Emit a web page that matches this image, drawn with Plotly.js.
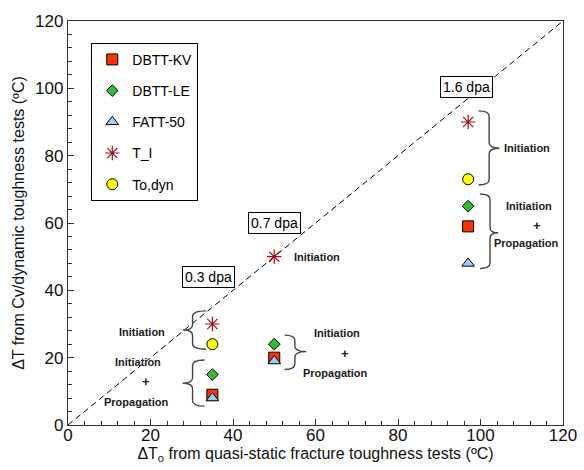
<!DOCTYPE html>
<html>
<head>
<meta charset="utf-8">
<script src="https://cdn.plot.ly/plotly-3.0.1.min.js"></script>
<style>html,body{margin:0;padding:0;background:#fff;}#chart{width:584px;height:470px;}</style>
</head>
<body>
<div id="chart"></div>
<script>
// Data
const deltaTo = [35, 50, 97];          // ΔTo from quasi-static fracture toughness tests
const dbttKV = [9, 20, 59];
const dbttLE = [15, 24, 65];
const fatt50 = [8, 19, 48];
const tI = [30, 50, 90];
const toDyn = [24, null, 73];
const diagonal = [0, 120];
const doseLabels = ['0.3 dpa', '0.7 dpa', '1.6 dpa'];

const FONT = 'Arial, "Liberation Sans", sans-serif';

function mk(name, y, symbol, color, size, lineColor, lineWidth, group) {
  return {
    type: 'scatter', mode: 'markers', name: name, x: deltaTo, y: y,
    legendgroup: group,
    marker: {symbol: symbol, color: color, size: size,
             line: {color: lineColor, width: lineWidth}}
  };
}

const traces = [
  {type: 'scatter', mode: 'lines', x: diagonal, y: diagonal, showlegend: false,
   line: {color: '#000', width: 1, dash: '6px,4px'}, hoverinfo: 'skip'},
  mk('DBTT-KV', dbttKV, 'square', '#FF3300', 11, '#000', 1, 'a'),
  mk('DBTT-LE', dbttLE, 'diamond', '#33BB33', 9, '#000', 1, 'b'),
  mk('FATT-50', fatt50, 'triangle-up', '#99CCFF', 11, '#000', 1, 'c'),
  mk('T_I', tI, 'asterisk-open', '#A01010', 12, '#A01010', 1.2, 'd'),
  mk('To,dyn', toDyn, 'circle', '#FFFF00', 11, '#000', 1, 'e')
];

// Brace path helpers (data coordinates)
function brace(xEnd, xv, xt, yTop, yMid, yBot) {
  const c = 1.6;
  return `M ${xEnd},${yTop} Q ${xv},${yTop} ${xv},${yTop - c} L ${xv},${yMid + c} Q ${xv},${yMid} ${xt},${yMid} ` +
         `Q ${xv},${yMid} ${xv},${yMid - c} L ${xv},${yBot + c} Q ${xv},${yBot} ${xEnd},${yBot}`;
}
const braceStyle = {color: '#444', width: 1.4};
const shapes = [
  {type: 'path', xref: 'x', yref: 'y', path: brace(33.5, 30.2, 27.9, 33.9, 28.2, 22.5), line: braceStyle},
  {type: 'path', xref: 'x', yref: 'y', path: brace(33.1, 30.2, 27.8, 19.3, 12.4, 5.6), line: braceStyle},
  {type: 'path', xref: 'x', yref: 'y', path: brace(52.5, 55.0, 57.8, 26.7, 21.8, 16.5), line: braceStyle},
  {type: 'path', xref: 'x', yref: 'y', path: brace(99.5, 102.1, 104.6, 93.3, 82.2, 71.3), line: braceStyle},
  {type: 'path', xref: 'x', yref: 'y', path: brace(99.9, 102.3, 104.3, 68.6, 57.1, 46.5), line: braceStyle}
];

function lab(text, x, y, xanchor, size) {
  return {text: '<b>' + text + '</b>', x: x, y: y, xref: 'x', yref: 'y', showarrow: false,
          xanchor: xanchor || 'center', yanchor: 'middle',
          font: {family: FONT, size: size || 11, color: '#1a1a1a'}};
}
function dose(text, x, y) {
  return {text: text, x: x, y: y, xref: 'x', yref: 'y', showarrow: false,
          xanchor: 'center', yanchor: 'middle', bgcolor: '#fff',
          bordercolor: '#000', borderwidth: 1, borderpad: 2,
          font: {family: FONT, size: 14, color: '#000'}};
}
const annotations = [
  lab('Initiation', 18.0, 27.7),
  lab('Initiation', 17.0, 18.8),
  lab('+', 18.8, 12.9, 'center', 13),
  lab('Propagation', 16.4, 6.9),
  lab('Initiation', 65.2, 27.4),
  lab('+', 67.1, 21.3, 'center', 13),
  lab('Propagation', 64.7, 15.5),
  lab('Initiation', 60.4, 50),
  lab('Initiation', 105.1, 82.2, 'left'),
  lab('Initiation', 111.8, 65.1),
  lab('+', 113.6, 59.2, 'center', 13),
  lab('Propagation', 111.0, 54.0),
  dose(doseLabels[0], 34.1, 44.0),
  dose(doseLabels[1], 50.0, 59.9),
  dose(doseLabels[2], 96.5, 100.5)
];

const axisCommon = {
  range: [0, 120], dtick: 20, tick0: 0,
  ticks: 'inside', ticklen: 6, tickwidth: 1, tickcolor: '#333',
  minor: {dtick: 4, ticks: 'inside', ticklen: 4, tickcolor: '#333', tickwidth: 1},
  showline: true, linecolor: '#333', linewidth: 1.2, mirror: true,
  showgrid: false, zeroline: false,
  tickfont: {family: FONT, size: 17, color: '#111'}
};

const layout = {
  width: 584, height: 470,
  margin: {l: 68, r: 21, t: 21, b: 45},
  paper_bgcolor: '#fff', plot_bgcolor: '#fff',
  font: {family: FONT},
  xaxis: Object.assign({}, axisCommon, {
    ticklabelstandoff: -6,
    title: {text: 'ΔT<sub>o</sub> from quasi-static fracture toughness tests (ºC)',
            font: {family: FONT, size: 16, color: '#111'}, standoff: 0}
  }),
  yaxis: Object.assign({}, axisCommon, {
    title: {text: 'ΔT from Cv/dynamic toughness tests (ºC)',
            font: {family: FONT, size: 16, color: '#111'}, standoff: 6}
  }),
  showlegend: true,
  legend: {x: 0.047, y: 0.946, xanchor: 'left', yanchor: 'top',
           bgcolor: '#fff', bordercolor: '#000', borderwidth: 1,
           tracegroupgap: 10, itemwidth: 30,
           font: {family: FONT, size: 14, color: '#000'}},
  shapes: shapes,
  annotations: annotations
};

Plotly.newPlot('chart', traces, layout, {displayModeBar: false, staticPlot: true});
</script>
</body>
</html>
